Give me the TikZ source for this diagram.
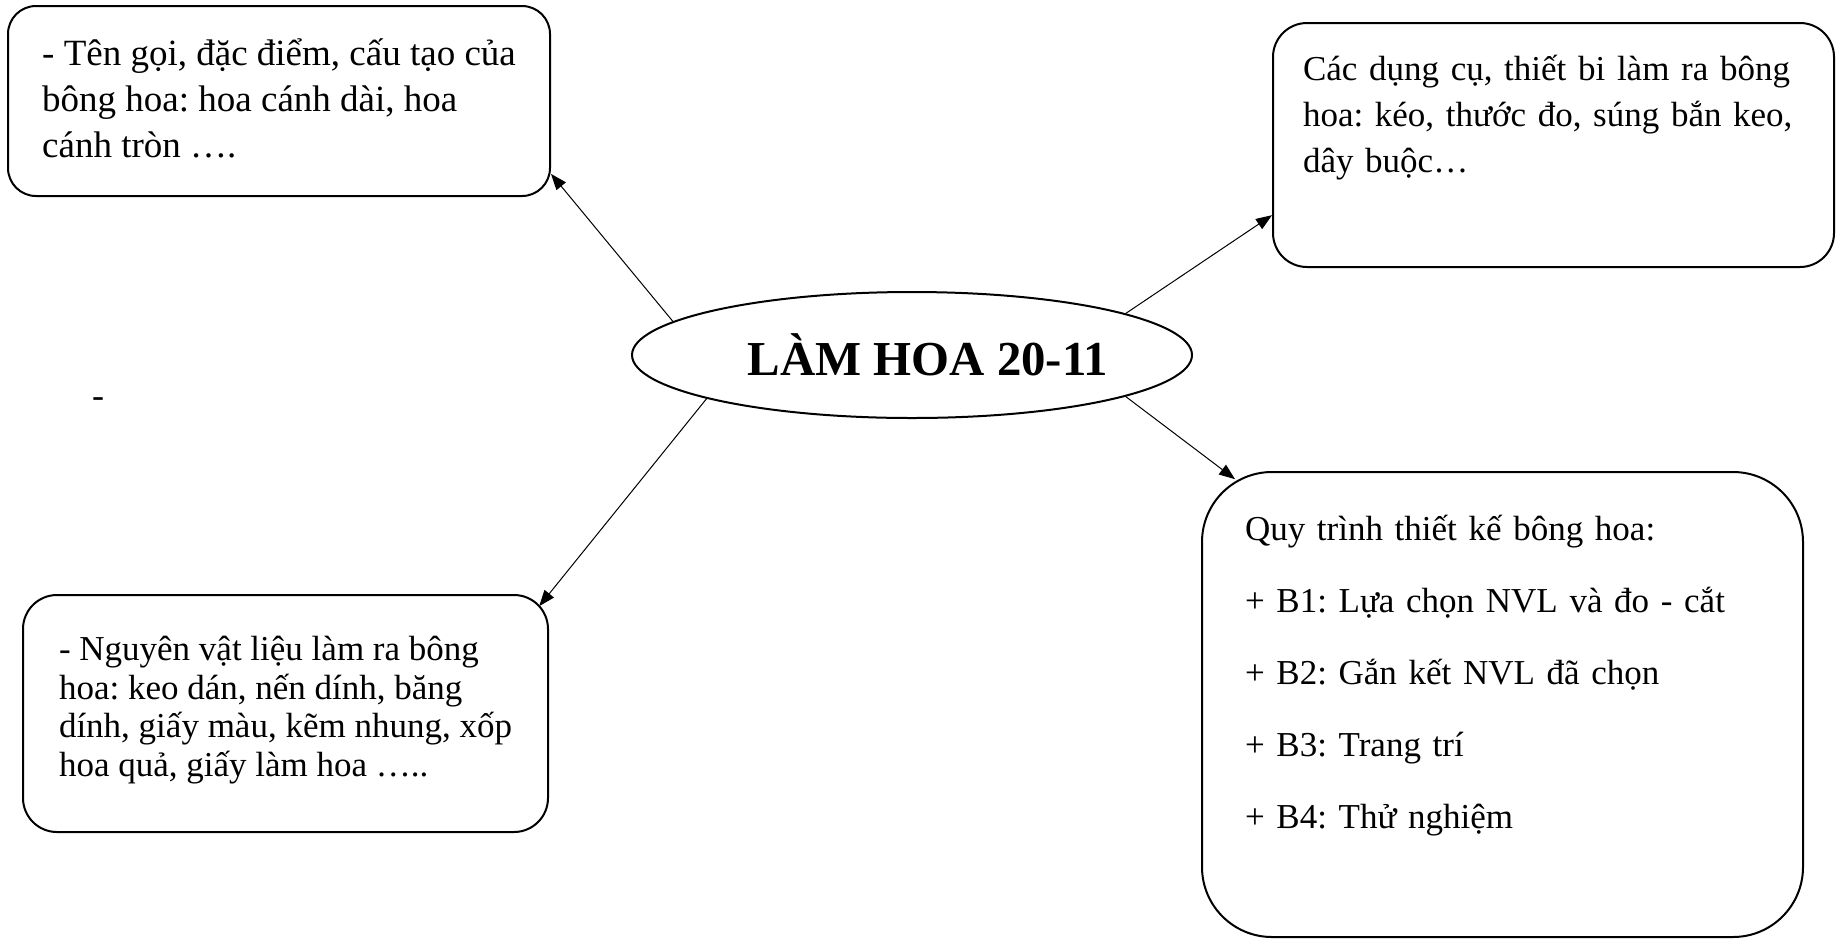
\documentclass[tikz,border=0pt]{standalone}
\usepackage{fontspec}
\setmainfont{Liberation Serif}
\usetikzlibrary{arrows.meta,shapes.geometric}
\definecolor{Ink}{HTML}{000000}
\frenchspacing
\newcommand{\padbelow}[1]{\rule[-#1]{0pt}{#1}}
\tikzset{
  notebox/.style={draw=Ink, line width=1pt, align=left, inner xsep=0pt, inner ysep=0pt, font=\fontsize{17.5}{20.5}\selectfont},
  titleoval/.style={draw=Ink, ellipse, line width=1pt, minimum width=280pt, minimum height=63pt, inner sep=0pt, font=\fontsize{24.4}{28}\selectfont\bfseries},
  arrow/.style={-{Triangle[length=8pt,width=6pt]}, line width=0.5pt, draw=Ink}
}

\begin{document}
\begin{tikzpicture}[x=0.5pt, y=-0.5pt]
  \useasboundingbox (0,0) rectangle (1836,938);

  \node[titleoval] (title) at (912,355) {\hspace*{16pt}LÀM HOA 20-11};

  % boxes on the left: the widest line sets the side margins
  \node[notebox, rounded corners=14pt, minimum width=271pt, minimum height=95pt, font=\fontsize{18.5}{23}\selectfont] (flower) at (279,101)
    {- Tên gọi, đặc điểm, cấu tạo của\\bông hoa: hoa cánh dài, hoa\\cánh tròn ….\padbelow{3pt}};
  \node[notebox, rounded corners=17pt, minimum width=262.5pt, minimum height=118.5pt, font=\fontsize{17.5}{19.3}\selectfont] (materials) at (285.5,713.5)
    {- Nguyên vật liệu làm ra bông\\hoa: keo dán, nến dính, băng\\dính, giấy màu, kẽm nhung, xốp\\hoa quả, giấy làm hoa …..\padbelow{7pt}};

  % boxes on the right
  \node[notebox, rounded corners=17pt, inner xsep=15pt, text width=250.5pt, minimum height=122pt, font=\fontsize{17.5}{23}\selectfont] (tools) at (1553.5,145)
    {Các dụng cụ, thiết bi làm ra bông\\hoa: kéo, thước đo, súng bắn keo,\\dây buộc…\padbelow{31pt}};
  \node[notebox, rounded corners=35pt, inner xsep=21.5pt, text width=257.5pt, minimum height=232.5pt, font=\fontsize{17.5}{36}\selectfont] (process) at (1502.5,704.5)
    {Quy trình thiết kế bông hoa:\\+ B1: Lựa chọn NVL và đo - cắt\\+ B2: Gắn kết NVL đã chọn\\+ B3: Trang trí\\+ B4: Thử nghiệm\padbelow{33pt}};

  \node[font=\fontsize{18}{20}\selectfont, inner sep=0pt] (dash) at (98,403) {-};

  \draw[arrow] (title.172) -- (flower.-15);
  \draw[arrow] (title.11) -- (tools.194);
  \draw[arrow, shorten >=-7.8pt] (title.192) -- (materials.north east);
  \draw[arrow, shorten >=-6.8pt] (title.-11) -- (process.140);
\end{tikzpicture}
\end{document}
